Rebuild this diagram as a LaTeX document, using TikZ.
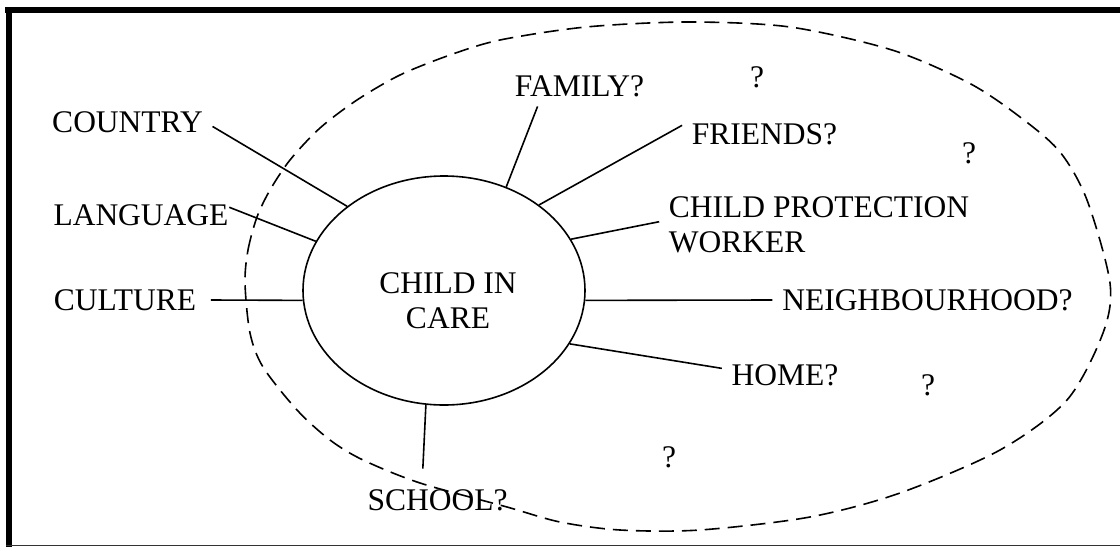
\documentclass[tikz,border=0pt]{standalone}
\usepackage{fontspec}
\setmainfont{Liberation Serif}
\usetikzlibrary{shapes.geometric}
\begin{document}
\begin{tikzpicture}[x=1pt, y=-1pt, line width=1.6pt,
    lbl/.style={font=\fontsize{31.5}{35}\selectfont, inner sep=9pt},
    hub/.style={draw, ellipse, minimum width=282pt, minimum height=229pt, inner sep=0pt}]
    \useasboundingbox (0,0) rectangle (1120,547);
    % frame
    \fill (5,7) rectangle (1120,13);
    \fill (6,7) rectangle (12,547);
    \draw[line width=1.5pt, black!80] (6,545.5) -- (1120,545.5);
    % dashed boundary
    \draw[dash pattern=on 15pt off 8pt] plot[smooth cycle] coordinates {
        (245,283) (248,250) (257,217) (270,190) (290,160) (320,128) (357,100)
        (400,75) (450,55) (500,40) (586,27) (688,22) (790,27) (892,50)
        (969,83) (1020,117) (1060,152) (1087,200) (1110,283) (1103,333)
        (1067,400) (1000,450) (900,493) (810,517) (700,530) (620,530)
        (560,522) (507,507) (420,483) (363,460) (330,440) (297,410)
        (263,367) (250,333)};
    \node[hub] (child) at (444,290.5) {};
    \node[lbl, align=center] (childtxt) at (448,300.5) {CHILD IN\\CARE};
    \node[lbl] (country) at (127.5,122) {COUNTRY};
    \node[lbl, inner xsep=0pt] (language) at (141,215) {LANGUAGE};
    \node[lbl, inner xsep=14pt] (culture) at (125,300) {CULTURE};
    \node[lbl] (family) at (579.5,86) {FAMILY?};
    \node[lbl] (friends) at (764.5,134) {FRIENDS?};
    \node[lbl, align=left] (cpw) at (819,224.5) {CHILD PROTECTION\\WORKER};
    \node[lbl] (neigh) at (927.5,300) {NEIGHBOURHOOD?};
    \node[lbl] (home) at (785,375) {HOME?};
    \node[lbl, inner ysep=20pt] (school) at (437.5,500) {SCHOOL?};
    \foreach \p [count=\i] in {(757,77),(969,153),(928,385),(669,457)}
        \node[lbl] (q\i) at \p {?};
    \foreach \a/\b in {country.357/child.139, language.5/child.159,
        culture.east/child.184, family.206/child.59, friends.174/child.42,
        cpw.179/child.22, neigh.west/child.356, home.174/child.337,
        school.115/child.261}
        \draw (\a) -- (\b);
\end{tikzpicture}
\end{document}
